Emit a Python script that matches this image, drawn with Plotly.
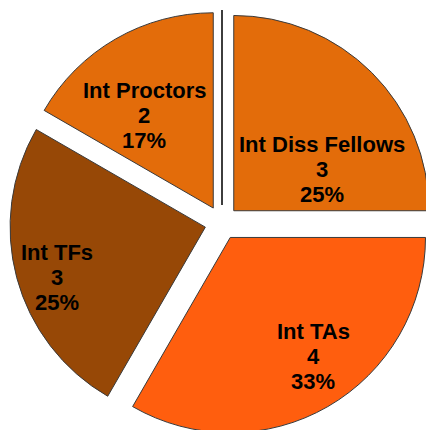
import plotly.graph_objects as go

labels = ["Int Diss Fellows", "Int TAs", "Int TFs", "Int Proctors"]
values = [3, 4, 3, 2]

# styling / layout (not data)
colors = ["#E36C0A", "#FF5E0E", "#974806", "#E36C0A"]
pulls = [0.087, 0.087, 0.087, 0.087]
# label anchor (centre of the value line) in page pixels
label_pos = [(322, 170), (313, 356), (57, 277), (144, 115)]
LINE_GAP = 25

W, H = 434, 435

fig = go.Figure(go.Pie(
    labels=labels,
    values=values,
    sort=False,
    direction="clockwise",
    rotation=0,
    pull=pulls,
    marker=dict(colors=colors, line=dict(color="#3a3a3a", width=1)),
    textinfo="none",
    hoverinfo="label+value+percent",
    showlegend=False,
    domain=dict(x=[9.5 / W, 1], y=[0, 1 - 10.5 / H]),
))

total = sum(values)
font = dict(family="Liberation Sans, Arial, sans-serif", size=22, color="black", weight=700)
for lab, val, (px, py) in zip(labels, values, label_pos):
    pct = f"{round(100 * val / total)}%"
    for txt, shift in ((lab, LINE_GAP), (str(val), 0), (pct, -LINE_GAP)):
        fig.add_annotation(
            x=px / W, y=1 - py / H, xref="paper", yref="paper",
            text=txt, showarrow=False, font=font,
            xanchor="center", yanchor="middle", yshift=shift,
        )

fig.add_shape(type="line", xref="paper", yref="paper",
              x0=222 / W, x1=222 / W, y0=1 - 10 / H, y1=1 - 205 / H,
              line=dict(color="#1a1a1a", width=1.7))

fig.update_layout(
    width=W, height=H,
    margin=dict(l=0, r=0, t=0, b=0),
    paper_bgcolor="white",
    plot_bgcolor="white",
)

fig.write_html(
    "out.html",
    config={"displayModeBar": False},
    post_script="document.body.style.margin='0px';document.body.style.overflow='hidden';",
)
